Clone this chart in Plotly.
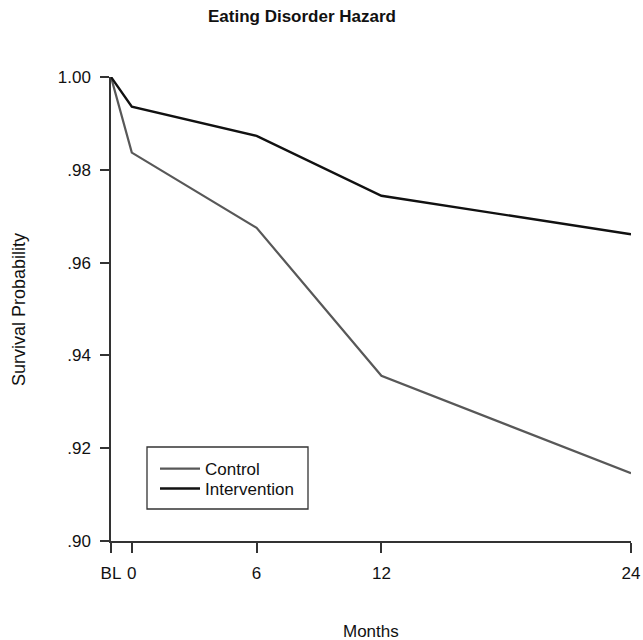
import plotly.graph_objects as go

months = [-1, 0, 6, 12, 24]
tick_vals = [-1, 0, 6, 12, 24]
tick_text = ["BL", "0", "6", "12", "24"]
control = [1.0, 0.9837, 0.9675, 0.9356, 0.9146]
intervention = [1.0, 0.9936, 0.9873, 0.9744, 0.9661]
y_tick_vals = [0.90, 0.92, 0.94, 0.96, 0.98, 1.00]
y_tick_text = [".90", ".92", ".94", ".96", ".98", "1.00"]

FONT = "Liberation Sans, Arial, sans-serif"
W, H = 643, 640
PL, PT, PW, PH = 111, 77, 520, 464          # plot area in screen pixels
L, T = PL, PT
R = W - L - PW
B = H - T - PH


def px(xs):
    return (xs - PL) / PW


def py(ys):
    return (PT + PH - ys) / PH


fig = go.Figure()
fig.add_trace(go.Scatter(x=months, y=control, mode="lines", name="Control",
                         line=dict(color="#585858", width=2.2), legend="legend"))
fig.add_trace(go.Scatter(x=months, y=intervention, mode="lines", name="Intervention",
                         line=dict(color="#111111", width=2.4), legend="legend2"))

leg_common = dict(xanchor="left", yanchor="middle", bgcolor="rgba(0,0,0,0)",
                  borderwidth=0, font=dict(family=FONT, size=17, color="#111111"),
                  itemwidth=40)

fig.update_layout(
    width=W, height=H,
    margin=dict(l=L, r=R, t=T, b=B, autoexpand=False),
    paper_bgcolor="white", plot_bgcolor="white",
    font=dict(family=FONT, size=17, color="#111111"),
    showlegend=True,
    legend=dict(x=px(155), y=py(469), **leg_common),
    legend2=dict(x=px(155), y=py(489), **leg_common),
    xaxis=dict(range=[-1, 24], tickvals=tick_vals, ticktext=tick_text,
               showgrid=False, zeroline=False, showline=True, linecolor="#333333",
               linewidth=1.5, ticks="outside", ticklen=10, tickwidth=1.5,
               tickcolor="#333333", ticklabelstandoff=6, automargin=False),
    yaxis=dict(range=[0.9, 1.0], tickvals=y_tick_vals, ticktext=y_tick_text,
               showgrid=False, zeroline=False, showline=True, linecolor="#333333",
               linewidth=1.5, ticks="outside", ticklen=9, tickwidth=1.5,
               tickcolor="#333333", ticklabelstandoff=6, automargin=False),
    shapes=[dict(type="rect", xref="paper", yref="paper",
                 x0=px(147), x1=px(308), y0=py(509), y1=py(447),
                 line=dict(color="#333333", width=1.3), fillcolor="rgba(0,0,0,0)")],
    annotations=[
        dict(text="<b>Eating Disorder Hazard</b>", xref="paper", yref="paper",
             x=px(302), y=py(17), showarrow=False,
             xanchor="center", yanchor="middle", font=dict(size=17)),
        dict(text="Months", xref="paper", yref="paper",
             x=px(371), y=py(631), showarrow=False,
             xanchor="center", yanchor="middle", font=dict(size=17)),
        dict(text="Survival Probability", xref="paper", yref="paper",
             x=px(19), y=py(310), showarrow=False, textangle=-90,
             xanchor="center", yanchor="middle", font=dict(size=18)),
    ],
)

fig.write_html(
    "out.html",
    config={"displayModeBar": False},
    post_script="document.body.style.margin='0px';document.body.style.overflow='hidden';",
)
